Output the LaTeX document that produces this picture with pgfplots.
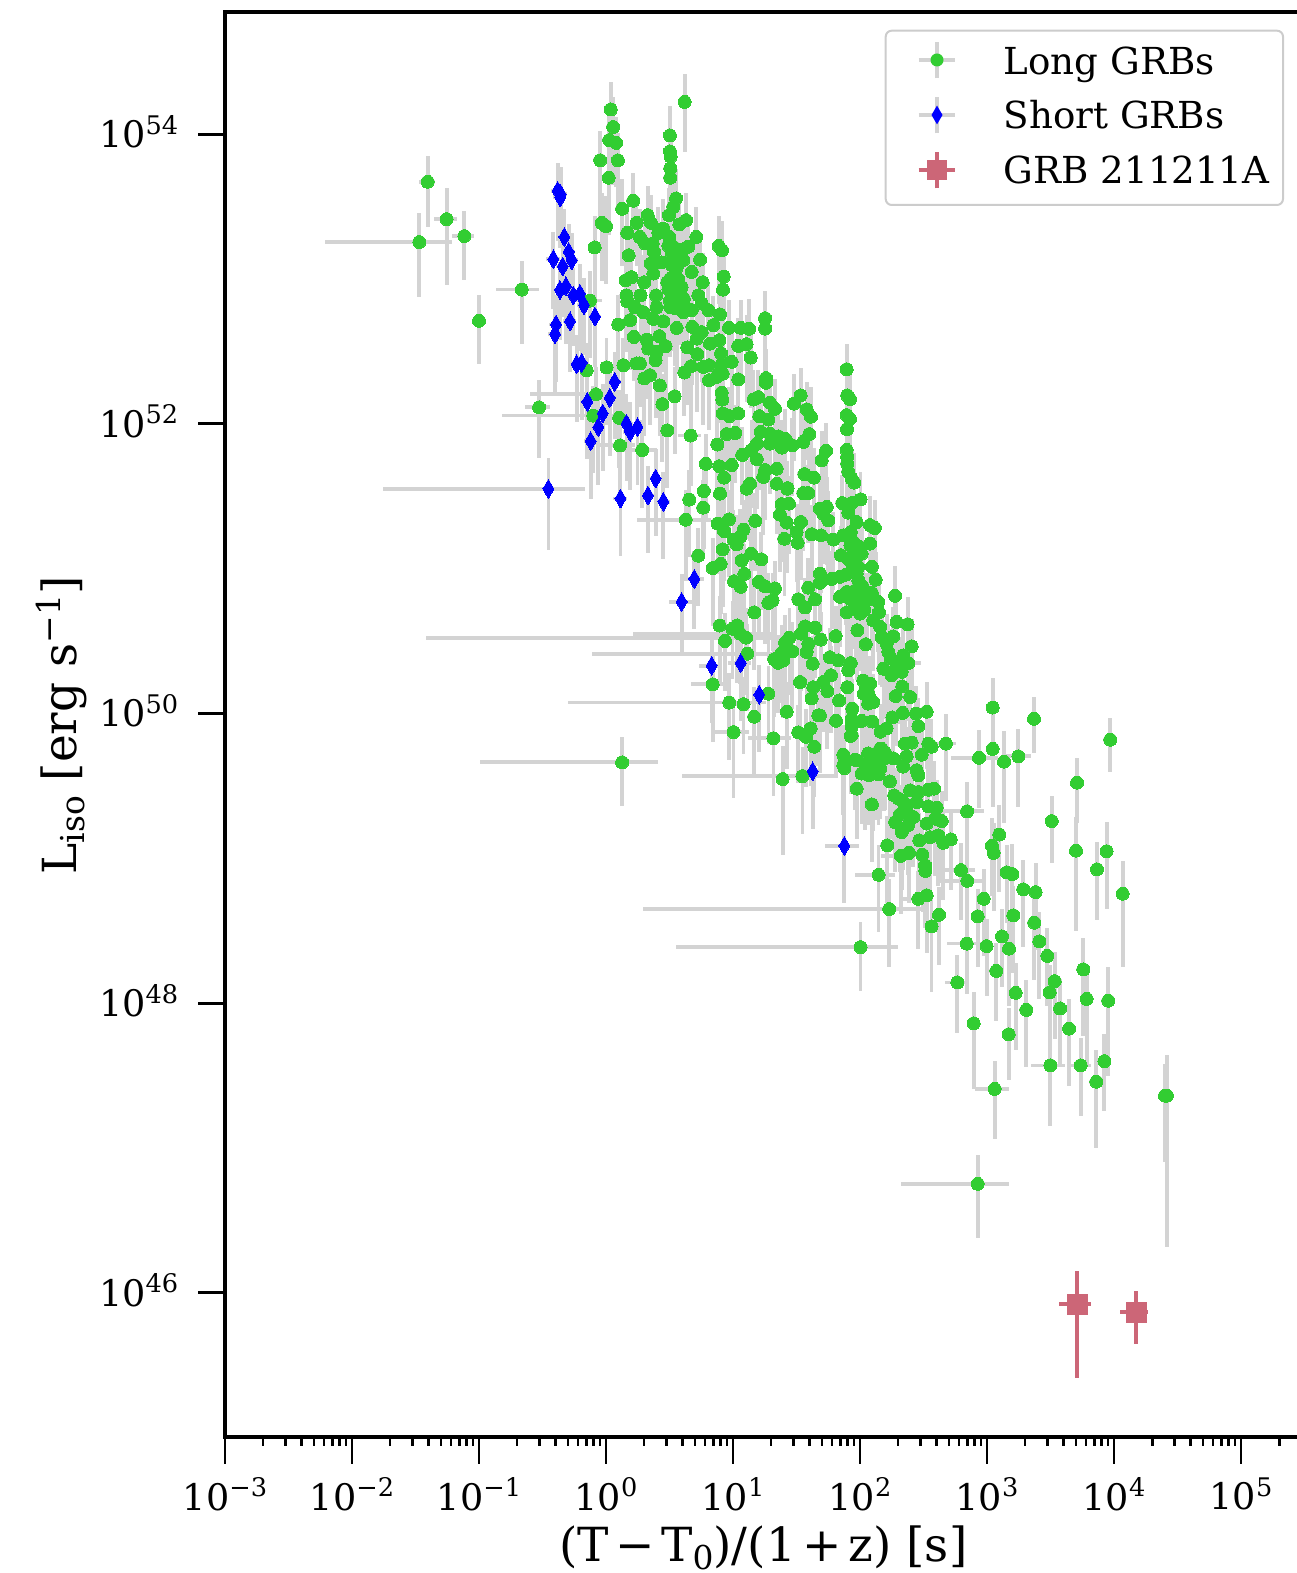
\documentclass[border=0pt]{standalone}
\usepackage{fontspec}
\setmainfont{DejaVu Serif}
\usepackage{pgfplots}
\usepackage{pgfplotstable}
\pgfplotsset{compat=1.18}
\definecolor{lgrey}{HTML}{D3D3D3}
\definecolor{lgreen}{HTML}{32CD32}
\definecolor{bblue}{HTML}{0000FF}
\definecolor{rosec}{HTML}{CC6677}
\definecolor{legframe}{HTML}{CCCCCC}
\newcommand\sps[1]{\raisebox{0.37em}{\scalebox{0.7}{#1}}}
\newcommand\spl[1]{\raisebox{0.34em}{\scalebox{0.7}{#1}}}
\newcommand\sbs[1]{\raisebox{-0.16em}{\scalebox{0.7}{#1}}}
\pgfplotstableread{
x y ex ey
0.0394 4.69e53 0.15 0.51
0.0556 2.59e53 0.2 0.65
0.0339 1.80e53 0.82 0.58
0.0767 1.98e53 0.2 0.5
0.1 5.14e52 0.1 0.5
0.217 8.45e52 0.37 0.58
0.297 1.30e52 0.22 0.55
1.09 1.48e54 0.12 0.55
1.14 1.12e54 0.12 0.6
1.06 9.1e53 0.12 0.55
1.2 8.7e53 0.12 0.5
0.90 6.6e53 0.12 0.6
1.24 6.6e53 0.12 0.55
1.05 5.0e53 0.12 0.6
4.16 1.67e54 0.12 0.55
3.19 9.8e53 0.12 0.6
3.19 7.6e53 0.12 0.55
3.23 7.0e53 0.12 0.5
3.21 5.8e53 0.12 0.6
3.21 5.0e53 0.12 0.55
3.56 3.6e53 0.12 0.6
3.39 3.15e53 0.12 0.5
3.13 2.76e53 0.12 0.55
1.64 3.47e53 0.12 0.55
1.34 3.05e53 0.12 0.6
2.13 2.76e53 0.12 0.6
2.26 2.44e53 0.12 0.55
1.74 2.44e53 0.12 0.5
0.925 2.44e53 0.12 0.6
1.0 2.32e53 0.12 0.6
4.27 2.55e53 0.12 0.55
3.78 2.38e53 0.12 0.55
2.83 2.23e53 0.12 0.6
2.58 2.08e53 0.12 0.5
1.47 2.08e53 0.12 0.55
5.14 1.95e53 0.12 0.6
1.85 1.95e53 0.12 0.55
2.03 1.76e53 0.12 0.5
3.15 1.95e53 0.12 0.6
2.33 1.76e53 0.12 0.55
2.39 1.54e53 0.12 0.6
0.814 1.65e53 0.12 0.65
1.51 1.46e53 0.12 0.5
3.39 1.67e53 0.12 0.55
3.83 1.54e53 0.12 0.6
4.45 1.67e53 0.12 0.55
5.5 1.36e53 0.12 0.5
7.71 1.69e53 0.12 0.6
8.19 1.58e53 0.12 0.6
3.49 1.42e53 0.12 0.55
4.06 1.35e53 0.12 0.6
2.74 1.30e53 0.12 0.5
2.25 1.28e53 0.12 0.55
2.36 1.09e53 0.12 0.6
4.73 1.12e53 0.12 0.55
8.45 1.04e53 0.12 0.5
1.59 1.03e53 0.12 0.55
1.43 9.8e52 0.12 0.6
2.0 9.5e52 0.12 0.55
5.77 9.5e52 0.12 0.6
8.34 8.45e52 0.12 0.55
3.04 9.5e52 0.12 0.5
3.49 9.3e52 0.12 0.6
3.94 8.8e52 0.12 0.55
3.39 7.9e52 0.12 0.6
3.19 7.1e52 0.12 0.55
3.83 7.0e52 0.12 0.5
5.33 7.7e52 0.12 0.6
1.45 7.7e52 0.12 0.55
1.87 7.7e52 0.12 0.6
2.48 7.7e52 0.12 0.5
0.748 7.1e52 0.25 0.6
1.47 7.0e52 0.12 0.55
1.69 6.4e52 0.12 0.6
1.97 5.9e52 0.12 0.55
2.5 6.35e52 0.12 0.5
4.06 5.9e52 0.12 0.6
4.73 6.1e52 0.12 0.55
5.67 6.8e52 0.12 0.6
6.4 6.1e52 0.12 0.55
7.9 5.7e52 0.12 0.5
1.25 4.85e52 0.12 0.6
1.55 5.2e52 0.12 0.55
2.36 5.3e52 0.12 0.6
2.83 5.1e52 0.12 0.55
3.6 4.6e52 0.12 0.5
4.78 4.67e52 0.12 0.6
5.67 4.3e52 0.12 0.55
7.0 4.8e52 0.12 0.6
9.3 4.6e52 0.12 0.55
11.5 4.6e52 0.12 0.55
13.4 4.53e52 0.12 0.6
17.9 5.36e52 0.12 0.55
17.9 4.55e52 0.12 0.6
1.66 3.98e52 0.12 0.5
2.09 3.82e52 0.12 0.6
2.63 4.03e52 0.12 0.55
5.18 3.88e52 0.12 0.6
7.8 3.78e52 0.12 0.55
6.59 3.58e52 0.12 0.5
2.95 3.44e52 0.12 0.6
2.15 3.31e52 0.12 0.55
4.37 3.37e52 0.12 0.6
11.0 3.45e52 0.12 0.55
12.8 3.55e52 0.12 0.6
8.05 3.06e52 0.12 0.5
5.24 3.03e52 0.12 0.6
2.5 3.14e52 0.12 0.55
2.46 2.75e52 0.12 0.6
13.8 2.87e52 0.12 0.55
9.77 2.68e52 0.12 0.6
1.37 2.54e52 0.12 0.55
1.74 2.61e52 0.12 0.6
1.85 2.61e52 0.12 0.5
1.01 2.45e52 0.12 0.6
0.705 2.34e52 0.12 0.55
5.84 2.47e52 0.12 0.6
6.5 2.54e52 0.12 0.55
8.05 2.54e52 0.12 0.6
4.67 2.5e52 0.12 0.55
4.14 2.26e52 0.12 0.5
8.3 2.22e52 0.12 0.6
2.22 2.17e52 0.12 0.55
2.0 2.06e52 0.12 0.6
6.47 2.0e52 0.12 0.55
7.43 2.11e52 0.12 0.6
11.0 2.03e52 0.12 0.55
18.2 2.07e52 0.12 0.6
18.2 1.92e52 0.12 0.6
2.66 1.84e52 0.12 0.55
8.14 1.64e52 0.12 0.6
8.24 1.47e52 0.12 0.55
3.47 1.55e52 0.12 0.6
0.834 1.6e52 0.70 0.55
2.78 1.37e52 0.12 0.6
15.8 1.53e52 0.12 0.55
14.5 1.47e52 0.12 0.6
19.5 1.40e52 0.12 0.55
21.4 1.27e52 0.12 0.6
8.3 1.18e52 0.12 0.55
9.35 1.13e52 0.12 0.6
11.0 1.18e52 0.12 0.5
16.1 1.13e52 0.12 0.6
19 1.07e52 0.12 0.55
0.794 1.14e52 0.81 0.6
1.27 1.10e52 0.12 0.55
3.04 9.0e51 0.12 0.6
4.64 8.3e51 0.2 0.55
8.91 8.5e51 0.12 0.6
10.4 8.65e51 0.12 0.55
16.5 8.8e51 0.12 0.6
19.5 8.55e51 0.12 0.55
22.7 8.2e51 0.12 0.6
7.53 7.2e51 0.12 0.55
15.4 7.3e51 0.12 0.6
19.5 7.3e51 0.12 0.55
1.29 7.1e51 0.3 0.6
1.93 6.6e51 0.3 0.6
11.8 6.1e51 0.12 0.55
14 6.6e51 0.12 0.6
15.4 5.7e51 0.12 0.55
6.1 5.3e51 0.12 0.6
9.77 5.2e51 0.12 0.55
7.8 5.1e51 0.12 0.6
17.9 4.8e51 0.12 0.55
22.1 4.9e51 0.12 0.6
8.5 4.25e51 0.12 0.55
17.3 4.3e51 0.12 0.6
22.1 3.86e51 0.12 0.55
13.6 3.86e51 0.12 0.6
12.8 3.57e51 0.12 0.55
5.9 3.44e51 0.12 0.6
7.9 3.3e51 0.12 0.55
4.53 3.0e51 0.12 0.6
5.84 2.64e51 0.12 0.55
4.24 2.18e51 0.59 0.6
7.57 2.05e51 0.12 0.55
9.3 2.19e51 0.12 0.6
8.5 1.82e51 0.12 0.55
12.1 1.86e51 0.12 0.6
15 2.14e51 0.12 0.55
10.1 1.59e51 0.12 0.6
11.4 1.66e51 0.12 0.55
10.7 1.47e51 0.12 0.6
26.8 3.57e51 0.12 0.55
35.8 3.33e51 0.12 0.6
39.2 3.33e51 0.12 0.55
24.2 2.79e51 0.12 0.6
27.6 2.81e51 0.12 0.55
23.4 2.36e51 0.12 0.6
26.5 2.08e51 0.12 0.55
34.3 2.1e51 0.12 0.6
31.7 1.79e51 0.12 0.55
25.4 1.61e51 0.12 0.6
32.3 1.51e51 0.12 0.55
41.6 1.73e51 0.12 0.6
5.33 1.23e51 0.12 0.55
8.3 1.36e51 0.12 0.6
11.7 1.14e51 0.12 0.55
13.9 1.27e51 0.12 0.6
16.7 1.16e51 0.12 0.55
6.92 1.01e51 0.12 0.6
8.0 1.08e51 0.12 0.55
12.3 9.2e50 0.12 0.6
10.2 8.2e50 0.12 0.55
11.5 7.5e50 0.12 0.6
16 8.1e50 0.12 0.55
17.9 7.55e50 0.12 0.6
21.4 7.3e50 0.12 0.55
39.2 7.4e50 0.12 0.6
32.7 6.15e50 0.12 0.55
36.9 5.4e50 0.12 0.6
44.3 6.15e50 0.12 0.55
19 5.8e50 0.12 0.6
20.5 6.05e50 0.12 0.55
14.7 5.0e50 0.12 0.6
7.85 4.05e50 0.12 0.6
9.9 3.85e50 0.12 0.55
10.8 4.06e50 0.12 0.6
11.4 3.56e50 0.856 0.55
12.7 3.34e50 0.997 0.6
8.65 3.17e50 0.12 0.55
13 2.59e50 0.94 0.6
36.9 4.0e50 0.12 0.55
34.3 3.56e50 0.12 0.6
44.3 3.92e50 0.12 0.55
27.8 3.34e50 0.12 0.6
25.7 3.08e50 0.12 0.55
39.2 3.04e50 0.12 0.6
38 2.66e50 0.12 0.55
29.3 2.69e50 0.12 0.6
24.2 2.62e50 0.12 0.55
21.1 2.37e50 0.12 0.6
22.7 2.24e50 0.12 0.55
24.9 2.33e50 0.12 0.6
42.4 2.21e50 0.12 0.55
33.7 1.65e50 0.12 0.6
42.9 1.52e50 0.12 0.55
41.6 1.27e50 0.12 0.6
6.92 1.59e50 0.32 0.6
19 1.37e50 0.12 0.55
9.35 1.19e50 0.946 0.6
12.1 1.16e50 0.12 0.55
26.5 1.03e50 0.12 0.6
14.7 9.5e49 0.12 0.6
47 9.7e49 0.12 0.55
10.1 7.45e49 0.33 0.65
32.7 7.4e49 0.12 0.55
40.9 7.9e49 0.12 0.6
37.6 6.9e49 0.12 0.55
20.8 6.75e49 0.37 0.6
43.7 5.9e49 0.12 0.55
24.6 3.53e49 0.12 0.7
35.2 3.7e49 0.888 0.6
1.34 4.6e49 0.924 0.5
78.5 2.38e52 0.12 0.5
79.4 1.57e52 0.12 0.5
83.4 1.48e52 0.12 0.5
78.5 1.15e52 0.12 0.5
83.4 1.08e52 0.12 0.5
79 9.2e51 0.12 0.55
78.5 6.6e51 0.12 0.55
79.4 5.9e51 0.12 0.55
79.4 5.3e51 0.12 0.55
80.9 4.66e51 0.12 0.55
86 4.19e51 0.12 0.6
90.2 3.93e51 0.12 0.6
34.1 1.57e52 0.12 0.55
30.2 1.38e52 0.12 0.6
38 1.26e52 0.12 0.55
41.1 1.12e52 0.12 0.6
24.2 6.85e51 0.12 0.55
25.7 7.9e51 0.12 0.6
29.3 7.1e51 0.12 0.55
35.8 7.5e51 0.12 0.6
39.9 8.5e51 0.12 0.55
54 6.5e51 0.12 0.55
49.9 5.6e51 0.12 0.6
36.5 4.5e51 0.12 0.55
43.4 4.25e51 0.12 0.6
26.9 3.6e51 0.12 0.55
48.4 2.6e51 0.12 0.55
54.7 2.67e51 0.12 0.6
51.4 2.4e51 0.12 0.55
56.3 2.16e51 0.12 0.6
72.6 2.84e51 0.12 0.55
86 2.84e51 0.12 0.6
101 3.01e51 0.12 0.55
80.9 2.44e51 0.12 0.6
94.1 2.1e51 0.12 0.55
120 2.0e51 0.12 0.6
131 1.91e51 0.12 0.55
49.3 1.7e51 0.12 0.6
61.7 1.59e51 0.12 0.55
84.5 1.79e51 0.12 0.6
73.9 1.7e51 0.12 0.55
88.6 1.53e51 0.12 0.6
100 1.41e51 0.12 0.55
120 1.49e51 0.12 0.6
103 1.27e51 0.12 0.55
70.8 1.24e51 0.12 0.6
86 1.14e51 0.12 0.55
124 1.03e51 0.12 0.6
97 1.03e51 0.12 0.55
94.1 9.25e50 0.12 0.6
133 8.4e50 0.12 0.55
97 8.3e50 0.12 0.6
48.4 9.25e50 0.12 0.55
48.4 8.0e50 0.12 0.6
59.8 8.5e50 0.12 0.55
69.6 8.8e50 0.12 0.6
77.6 9.1e50 0.12 0.55
78.5 6.9e50 0.12 0.6
69.6 6.4e50 0.12 0.55
83.4 6.2e50 0.12 0.6
100 6.7e50 0.12 0.55
124 6.8e50 0.12 0.6
139 5.9e50 0.12 0.55
141 5.0e50 0.12 0.6
113 6.05e50 0.12 0.55
189 6.5e50 0.12 0.6
78.5 5.0e50 0.12 0.55
100 4.9e50 0.12 0.6
127 4.4e50 0.12 0.55
64.3 3.43e50 0.12 0.6
95.3 3.76e50 0.12 0.55
194 4.29e50 0.12 0.6
237 4.13e50 0.12 0.55
144 3.96e50 0.12 0.6
148 3.37e50 0.12 0.55
183 3.41e50 0.12 0.6
49 3.24e50 0.12 0.55
111 3.01e50 0.12 0.6
255 2.91e50 0.12 0.55
162 3.04e50 0.12 0.6
167 2.66e50 0.12 0.55
58 2.45e50 0.12 0.6
67.5 2.33e50 0.12 0.55
84.5 2.23e50 0.12 0.6
80.9 1.99e50 0.12 0.55
219 2.52e50 0.12 0.6
200 2.27e50 0.12 0.55
240 2.23e50 0.25 0.6
153 2.04e50 0.12 0.55
177 1.84e50 0.12 0.6
213 1.94e50 0.12 0.55
59.1 1.84e50 0.12 0.6
51.4 1.65e50 0.12 0.55
55.3 1.43e50 0.12 0.6
79.4 1.52e50 0.12 0.55
106 1.69e50 0.12 0.6
120 1.61e50 0.12 0.55
115 1.41e50 0.12 0.6
107 1.37e50 0.12 0.55
215 1.54e50 0.12 0.6
191 1.32e50 0.12 0.55
248 1.3e50 0.12 0.6
68.4 1.23e50 0.12 0.55
116 1.17e50 0.12 0.6
127 1.2e50 0.12 0.55
87 1.08e50 0.12 0.6
86 9.2e49 0.12 0.55
103 8.9e49 0.12 0.6
125 8.8e49 0.12 0.55
64.7 8.9e49 0.12 0.6
180 9.4e49 0.12 0.55
217 1.01e50 0.12 0.6
276 1.0e50 0.12 0.55
335 1.03e50 0.12 0.6
1108 1.1e50 0.12 0.6
2344 9.2e49 0.12 0.42
86 8.1e49 0.12 0.55
84.5 7.0e49 0.12 0.6
288 8.2e49 0.12 0.55
162 7.9e49 0.12 0.6
145 7.5e49 0.12 0.55
73.9 5.2e49 0.12 0.6
91.4 4.8e49 0.12 0.55
116 5.3e49 0.12 0.6
144 5.7e49 0.12 0.55
157 5.4e49 0.12 0.6
183 4.9e49 0.12 0.55
233 5.06e49 0.12 0.6
226 6.2e49 0.12 0.55
255 6.3e49 0.12 0.6
306 5.2e49 0.12 0.55
345 6.2e49 0.12 0.6
366 5.9e49 0.12 0.55
475 6.2e49 0.2 0.6
1108 5.7e49 0.12 0.6
865 4.95e49 0.4 0.55
1361 4.65e49 0.12 0.62
1766 5.06e49 0.25 0.55
127 4.6e49 0.12 0.6
73.9 4.4e49 0.12 0.55
219 4.3e49 0.12 0.6
94.1 4.75e49 0.12 0.55
75.3 4.2e49 0.12 0.6
103 3.85e49 0.12 0.55
148 5.7e49 0.12 0.6
135 4.75e49 0.12 0.55
127 3.85e49 0.12 0.6
144 4.16e49 0.12 0.55
279 4.06e49 0.12 0.6
288 3.74e49 0.12 0.55
86 8.5e49 0.12 0.6
86 7.1e49 0.12 0.55
48.4 9.7e49 0.12 0.6
94.1 3.03e49 0.12 0.55
172 3.4e49 0.12 0.6
124 2.36e49 0.12 0.6
186 2.72e49 0.12 0.55
219 2.45e49 0.12 0.6
248 2.95e49 0.12 0.55
288 2.87e49 0.12 0.6
279 2.45e49 0.12 0.55
345 2.98e49 0.12 0.6
383 3.03e49 0.12 0.55
345 2.29e49 0.12 0.6
402 2.24e49 0.12 0.55
219 2.09e49 0.12 0.6
263 1.93e49 0.12 0.55
440 1.81e49 0.12 0.6
335 1.74e49 0.12 0.55
390 1.88e49 0.12 0.6
189 1.78e49 0.12 0.55
213 1.52e49 0.12 0.6
164 1.23e49 0.12 0.6
293 1.33e49 0.12 0.55
356 1.4e49 0.12 0.6
414 1.44e49 0.12 0.55
453 1.28e49 0.12 0.6
518 1.35e49 0.12 0.55
210 1.04e49 0.3 0.6
243 1.09e49 0.12 0.55
310 1.06e49 0.12 0.6
325 8.95e48 0.12 0.55
327 8.2e48 0.12 0.6
140 7.7e48 0.35 0.6
624 8.3e48 0.3 0.55
700 7.0e48 0.4 0.6
1429 8.0e48 0.12 0.55
1583 7.8e48 0.12 0.6
1932 6.1e48 0.12 0.6
2416 5.85e48 0.12 0.6
170 4.47e48 0.9885 0.6
288 5.26e48 0.3 0.55
335 5.56e48 0.12 0.6
419 4.08e48 0.12 0.55
942 5.26e48 0.12 0.6
845 3.98e48 0.12 0.55
1611 4.04e48 0.12 0.6
2360 3.6e48 0.12 0.6
366 3.39e48 0.12 0.65
2582 2.67e48 0.12 0.6
1312 2.89e48 0.12 0.55
692 2.58e48 0.3 0.55
994 2.48e48 0.12 0.55
1490 2.38e48 0.12 0.6
101 2.44e48 0.965 0.5
2985 2.12e48 0.12 0.55
1184 1.67e48 0.12 0.55
5737 1.71e48 0.12 0.65
584 1.39e48 0.2 0.55
3410 1.42e48 0.12 0.6
3115 1.19e48 0.12 0.55
1681 1.18e48 0.12 0.6
6095 1.07e48 0.12 0.65
9020 1.04e48 0.12 0.7
3758 9.2e47 0.12 0.6
2042 9.0e47 0.12 0.6
4425 6.67e47 0.12 0.6
785 7.26e47 0.12 0.65
1482 6.1e47 0.12 0.52
3155 3.72e47 0.3 0.62
5468 3.72e47 0.2 0.55
8395 3.98e47 0.12 0.55
7261 2.87e47 0.12 0.65
1148 2.56e47 0.3 0.55
25200 2.3e47 0.12 0.65
26100 2.3e47 0.12 0.91
845 5.66e46 0.75 0.58
9354 6.6e49 0.12 0.4
5114 3.33e49 0.12 0.47
696 2.11e49 0.35 0.6
3232 1.81e49 0.12 0.49
1250 1.46e49 0.12 0.6
1094 1.22e49 0.12 0.55
1128 1.09e49 0.12 0.6
5020 1.13e49 0.12 0.72
8750 1.12e49 0.12 0.6
7345 8.4e48 0.12 0.55
11700 5.7e48 0.12 0.69
3.1 1.7e53 0.12 0.6
3.3 1.5e53 0.12 0.55
3.6 1.6e53 0.12 0.6
4.0 1.6e53 0.12 0.55
3.3 1.25e53 0.12 0.6
3.6 1.2e53 0.12 0.55
3.2 1.0e53 0.12 0.6
3.5 1.05e53 0.12 0.55
3.7 1.0e53 0.12 0.6
3.4 8.6e52 0.12 0.55
3.1 8.5e52 0.12 0.6
3.6 7.6e52 0.12 0.55
4.1 7.3e52 0.12 0.6
3.2 6.4e52 0.12 0.55
3.5 6.3e52 0.12 0.6
4.3 6.3e52 0.12 0.55
84 1.45e51 0.12 0.6
90 1.3e51 0.12 0.55
82 1.15e51 0.12 0.6
92 1.2e51 0.12 0.55
88 1.0e51 0.12 0.6
92 9.5e50 0.12 0.55
100 7.8e50 0.12 0.6
96 7.3e50 0.12 0.55
90 7.0e50 0.12 0.6
105 7.5e50 0.12 0.55
92 5.6e50 0.12 0.6
108 5.2e50 0.12 0.55
175 2.4e50 0.12 0.6
190 2.0e50 0.12 0.55
205 2.1e50 0.12 0.6
112 1.5e50 0.12 0.55
118 1.3e50 0.12 0.6
110 3.9e49 0.12 0.6
118 3.75e49 0.12 0.55
125 3.9e49 0.12 0.6
132 4.1e49 0.12 0.55
140 4.4e49 0.12 0.6
150 4.8e49 0.12 0.55
155 5.3e49 0.12 0.6
135 5.3e49 0.12 0.55
128 5.0e49 0.12 0.6
122 4.5e49 0.12 0.55
112 4.4e49 0.12 0.6
140 3.8e49 0.12 0.55
200 2.6e49 0.12 0.6
230 2.2e49 0.12 0.55
205 2.0e49 0.12 0.6
240 1.7e49 0.12 0.55
}\longgrb
\pgfplotstableread{
x y ex ey
0.416 4.06e53 0.12 0.55
0.44 3.85e53 0.12 0.55
0.436 3.66e53 0.12 0.55
0.47 1.95e53 0.12 0.55
0.508 1.54e53 0.12 0.55
0.537 1.35e53 0.12 0.55
0.385 1.37e53 0.12 0.55
0.456 1.22e53 0.12 0.55
0.434 8.4e52 0.12 0.55
0.484 8.9e52 0.12 0.6
0.553 7.7e52 0.12 0.55
0.624 7.9e52 0.12 0.6
0.671 6.6e52 0.12 0.55
0.819 5.5e52 0.12 0.55
0.404 4.85e52 0.12 0.6
0.397 4.16e52 0.12 0.6
0.521 5.1e52 0.12 0.55
0.587 2.58e52 0.12 0.6
0.643 2.64e52 0.12 0.6
1.17 1.95e52 0.12 0.6
0.713 1.42e52 0.12 0.6
1.07 1.51e52 0.12 0.6
0.942 1.18e52 0.12 0.6
0.87 9.5e51 0.12 0.6
0.757 7.6e51 0.12 0.6
1.45 1.0e52 0.12 0.6
1.55 8.8e51 0.12 0.6
1.77 9.5e51 0.12 0.6
2.46 4.19e51 0.12 0.6
0.352 3.56e51 0.95 0.62
1.30 3.05e51 0.12 0.6
2.14 3.2e51 0.12 0.6
2.83 2.9e51 0.12 0.6
4.96 8.5e50 0.2 0.55
3.94 5.9e50 0.2 0.55
6.79 2.14e50 0.2 0.6
11.5 2.23e50 0.2 0.6
16.1 1.35e50 0.12 0.6
42.4 3.99e49 0.12 0.6
75.3 1.22e49 0.3 0.6
}\shortgrb
\pgfplotstableread{
x y ex ey
5115 8.36e45 0.28 0.69
14900 7.36e45 0.25 0.40
}\thisgrb
\begin{document}
\begin{tikzpicture}
\begin{axis}[
  at={(112.5pt,68pt)}, anchor=south west,
  scale only axis, width=538.3pt, height=712.35pt,
  xmode=log, ymode=log, log basis x=10, log basis y=10,
  xmin=1e-3, xmax=3e5, ymin=1.013e45, ymax=6.95e54,
  xtick={1e-3,1e-2,1e-1,1e0,1e1,1e2,1e3,1e4,1e5},
  xticklabels={10\sps{−3},10\sps{−2},10\sps{−1},10\sps{0},10\sps{1},10\sps{2},10\sps{3},10\sps{4},10\sps{5}},
  minor xtick={2e-3,3e-3,4e-3,5e-3,6e-3,7e-3,8e-3,9e-3,2e-2,3e-2,4e-2,5e-2,6e-2,7e-2,8e-2,9e-2,0.2,0.3,0.4,0.5,0.6,0.7,0.8,0.9,2,3,4,5,6,7,8,9,20,30,40,50,60,70,80,90,200,300,400,500,600,700,800,900,2000,3000,4000,5000,6000,7000,8000,9000,2e4,3e4,4e4,5e4,6e4,7e4,8e4,9e4,2e5},
  ytick={1e46,1e48,1e50,1e52,1e54},
  yticklabels={10\sps{46},10\sps{48},10\sps{50},10\sps{52},10\sps{54}},
  yminorticks=false,
  xtick pos=bottom, ytick pos=left, tick align=outside,
  major tick length=13.4pt, minor tick length=4.4pt,
  major tick style={line width=1.4pt,black},
  minor tick style={line width=1.25pt,black},
  axis line style={line width=1.7pt,black},
  tick label style={font=\fontsize{18.3}{20}\selectfont},
  yticklabel style={anchor=base east,xshift=-6.5pt,yshift=-6.7pt},
  xticklabel style={yshift=-3.5pt},
  xlabel={(T\hspace{.14em}−\hspace{.14em}T\sbs{0})/(1\hspace{.14em}+\hspace{.14em}z) [s]},
  ylabel={L\sbs{iso} [erg s\spl{−1}]},
  xlabel style={font=\fontsize{23.5}{26}\selectfont, at={(axis description cs:0.5,-0.0877)}, anchor=base},
  ylabel style={font=\fontsize{23.5}{26}\selectfont, at={(axis description cs:-0.1375,0.4993)}, anchor=base},
]
\addplot[only marks, mark=*, mark size=3.25pt, mark options={fill=lgreen,draw=lgreen,line width=0pt},
  error bars/.cd, x dir=both, y dir=both, x explicit relative, y explicit relative, error mark=none,
  error bar style={line width=1.9pt,lgrey}]
  table[x=x,y=y,x error=ex,y error=ey] {\longgrb};
\addplot[only marks, mark=diamond*, mark size=4.7pt, mark options={fill=bblue,draw=bblue,line width=0pt,xscale=0.78},
  error bars/.cd, x dir=both, y dir=both, x explicit relative, y explicit relative, error mark=none,
  error bar style={line width=1.9pt,lgrey}]
  table[x=x,y=y,x error=ex,y error=ey] {\shortgrb};
\addplot[only marks, mark=square*, mark size=5pt, mark options={fill=rosec,draw=rosec,line width=0pt},
  error bars/.cd, x dir=both, y dir=both, x explicit relative, y explicit relative, error mark=none,
  error bar style={line width=1.85pt,rosec}]
  table[x=x,y=y,x error=ex,y error=ey] {\thisgrb};
\end{axis}
% legend
\draw[legframe,line width=1pt,fill=white,rounded corners=3pt] (442.85pt,684pt) rectangle (641.5pt,771.15pt);
\draw[lgrey,line width=1.75pt] (468.5pt,747.3pt)--(468.5pt,765.7pt) (459.3pt,756.5pt)--(477.7pt,756.5pt);
\fill[lgreen] (468.5pt,756.5pt) circle (3.25pt);
\draw[lgrey,line width=1.75pt] (468.5pt,719.8pt)--(468.5pt,738.2pt) (459.3pt,729pt)--(477.7pt,729pt);
\fill[bblue] (468.5pt,724.3pt)--(471.25pt,729pt)--(468.5pt,733.7pt)--(465.75pt,729pt)--cycle;
\draw[rosec,line width=1.75pt] (468.5pt,692.3pt)--(468.5pt,710.7pt) (459.3pt,701.5pt)--(477.7pt,701.5pt);
\fill[rosec] (463.5pt,696.5pt) rectangle (473.5pt,706.5pt);
\begin{scope}[every node/.style={anchor=base west,inner sep=0pt,font=\fontsize{18.6}{20}\selectfont}]
\node at (501.7pt,749.35pt) {Long GRBs};
\node at (501.7pt,722pt) {Short GRBs};
\node at (501.7pt,694.85pt) {GRB 211211A};
\end{scope}
\pgfresetboundingbox
\path[use as bounding box] (0,0) rectangle (648pt,786.5pt);
\end{tikzpicture}
\end{document}
